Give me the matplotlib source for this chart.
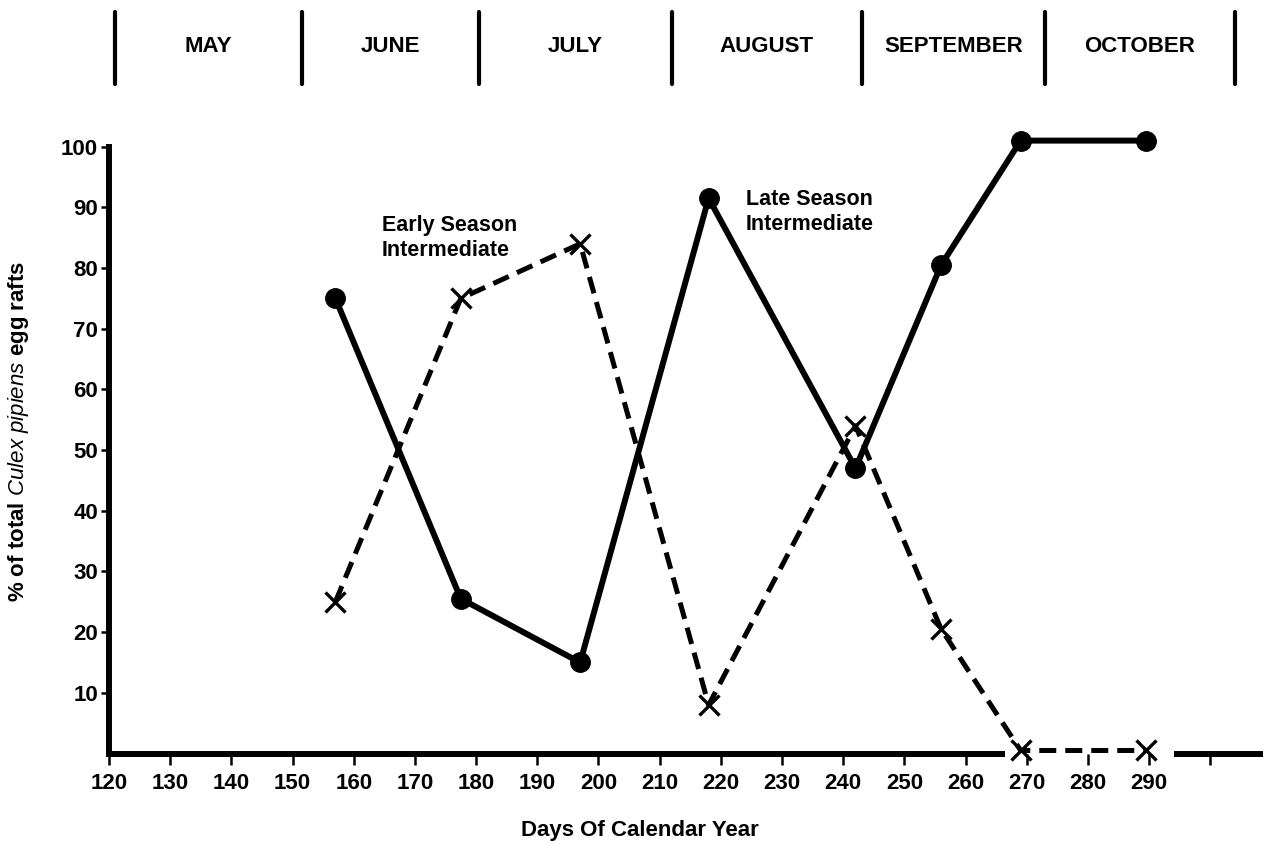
import matplotlib
matplotlib.use("Agg")
import matplotlib.pyplot as plt
import matplotlib.transforms as mtransforms
import numpy as np

plt.rcParams['font.family'] = ['Liberation Sans', 'DejaVu Sans']
plt.rcParams['mathtext.fontset'] = 'custom'
plt.rcParams['mathtext.it'] = 'Liberation Sans:italic'
plt.rcParams['mathtext.rm'] = 'Liberation Sans'

# ---- data ----
days = [157, 177.5, 197, 218, 242, 256, 269, 289.5]
late_season = [75, 25.5, 15, 91.5, 47, 80.5, 101, 101]     # solid, circles
early_season = [25, 75, 84, 8, 54, 20.5, 0.5, 0.5]         # dashed, crosses

months = ["MAY", "JUNE", "JULY", "AUGUST", "SEPTEMBER", "OCTOBER"]
month_edges = [121, 151.5, 180.5, 212, 243, 273, 304]

x_ticks = list(range(120, 301, 10))
x_ticklabels = [str(t) for t in x_ticks[:-1]] + [""]
y_ticks = list(range(10, 101, 10))

# axis drawn with a gap where the zero values lie on it
axis_gap = (266.5, 294)
xlim = (120, 308.6)

fig = plt.figure(figsize=(12.63, 8.44), dpi=100)
ax = fig.add_axes([0.0863, 0.1072, 1 - 0.0863, 0.7190])

ax.plot(days, late_season, color="black", lw=4.3, marker="o", ms=14,
        clip_on=False, zorder=3)
ax.plot(days, early_season, color="black", lw=3.6, dashes=(3.4, 1.8),
        marker="x", ms=14, mew=2.4, clip_on=False, zorder=3)

ax.set_xlim(*xlim)
ax.set_ylim(0, 100)

# spines
for s in ["top", "right", "bottom"]:
    ax.spines[s].set_visible(False)
ax.spines["left"].set_linewidth(4.3)
ax.spines["left"].set_bounds(0, 100)
ax.plot([xlim[0], axis_gap[0]], [0, 0], color="black", lw=4.3,
        solid_capstyle="butt", clip_on=False)
ax.plot([axis_gap[1], xlim[1]], [0, 0], color="black", lw=4.3,
        solid_capstyle="butt", clip_on=False)

ax.set_xticks(x_ticks)
ax.set_xticklabels(x_ticklabels, fontweight="bold")
ax.set_yticks(y_ticks)
ax.set_yticklabels([str(t) for t in y_ticks], fontweight="bold")
ax.tick_params(axis="x", direction="out", length=8, width=1.8,
               labelsize=16, pad=6)
ax.tick_params(axis="y", direction="out", length=6, width=1.8,
               labelsize=16, pad=2)

ax.set_xlabel("Days Of Calendar Year", fontsize=16, fontweight="bold")
ax.xaxis.set_label_coords((640 - 109) / 1154, -0.11)
ax.set_ylabel(r"% of total $\mathit{Culex\ pipiens}$ egg rafts",
              fontsize=16, fontweight="bold")
ax.yaxis.set_label_coords(-0.0675, 0.53)

# curve labels
ax.text(164.6, 85.0, "Early Season\nIntermediate", fontsize=15.5,
        fontweight="bold", ha="left", va="center", linespacing=1.25)
ax.text(224.1, 89.3, "Late Season\nIntermediate", fontsize=15.5,
        fontweight="bold", ha="left", va="center", linespacing=1.25)

# month header
trans = mtransforms.blended_transform_factory(ax.transData, fig.transFigure)
for x in month_edges:
    ax.plot([x, x], [1 - 12 / 844, 1 - 84 / 844], color="black", lw=3,
            solid_capstyle="round", transform=trans, clip_on=False)
for i, name in enumerate(months):
    mid = (month_edges[i] + month_edges[i + 1]) / 2
    ax.text(mid, 1 - 47 / 844, name, transform=trans, ha="center",
            va="center", fontsize=16, fontweight="bold")

fig.savefig("out.png", dpi=100)
